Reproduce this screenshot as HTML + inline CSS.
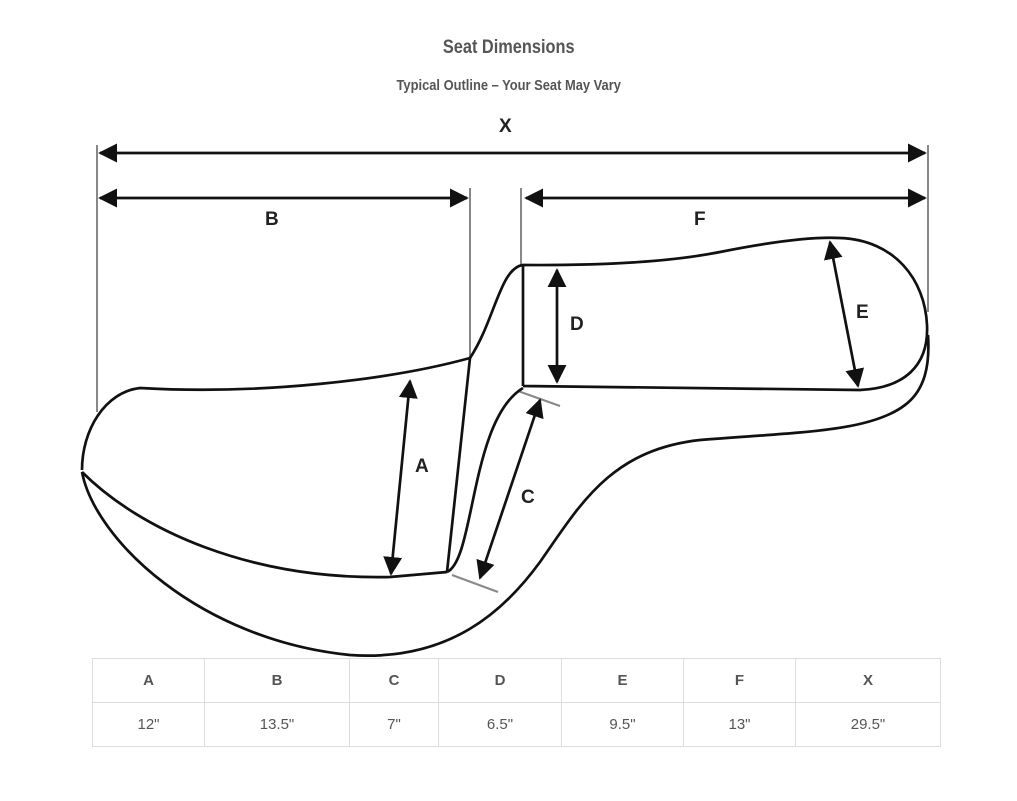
<!DOCTYPE html>
<html><head><meta charset="utf-8"><style>
body{margin:0;background:#fff;width:1017px;height:801px;overflow:hidden;font-family:"Liberation Sans",sans-serif;}
.t{position:absolute;left:0;width:1017px;text-align:center;color:#555;font-weight:bold;}
table{position:absolute;left:92px;top:658px;border-collapse:collapse;font-family:"Liberation Sans",sans-serif;color:#555;font-size:15px;}
td{border:1px solid #ddd;height:43px;text-align:center;padding:0;}
tr:first-child td{font-weight:bold;}
</style></head><body>
<div class="t" style="top:37px;font-size:19px;transform:scaleX(0.86);transform-origin:510px 0;">Seat Dimensions</div>
<div class="t" style="top:77px;font-size:15px;transform:scaleX(0.86);transform-origin:510px 0;">Typical Outline – Your Seat May Vary</div>
<svg width="1017" height="801" style="position:absolute;left:0;top:0" fill="none" stroke="#111" stroke-width="2.7">
<defs><marker id="a" viewBox="0 0 10 10" refX="9" refY="5" markerWidth="7" markerHeight="7" orient="auto-start-reverse"><path d="M0,0L10,5L0,10z" fill="#111" stroke="none"/></marker></defs>
<g stroke="#888" stroke-width="2">
<line x1="97" y1="145" x2="97" y2="412"/><line x1="928" y1="145" x2="928" y2="312"/>
<line x1="470" y1="188" x2="470" y2="358"/><line x1="521" y1="188" x2="521" y2="265"/>
<line x1="518" y1="391" x2="560" y2="406"/><line x1="452" y1="575" x2="498" y2="592"/>
</g>
<line x1="100" y1="153" x2="925" y2="153" marker-start="url(#a)" marker-end="url(#a)"/>
<line x1="100" y1="198" x2="467" y2="198" marker-start="url(#a)" marker-end="url(#a)"/>
<line x1="526" y1="198" x2="925" y2="198" marker-start="url(#a)" marker-end="url(#a)"/>
<line x1="557" y1="270" x2="557" y2="382" marker-start="url(#a)" marker-end="url(#a)"/>
<line x1="830" y1="242" x2="858" y2="386" marker-start="url(#a)" marker-end="url(#a)"/>
<line x1="410" y1="381" x2="391" y2="574" marker-start="url(#a)" marker-end="url(#a)"/>
<line x1="540" y1="400" x2="480" y2="578" marker-start="url(#a)" marker-end="url(#a)"/>
<path d="M82,470 C82,430 105,392 140,388 C260,395 390,380 470,358"/>
<path d="M82,472 C140,530 250,580 390,577 L447,572"/>
<path d="M470,358 L447,572"/>
<path d="M470,358 C495,320 500,268 523,265 Q650,266 720,252 Q800,236 840,238 C895,240 925,280 927,325 C929,365 905,388 860,390 L523,386 M523,265 L523,386"/>
<path d="M447,572 C475,560 470,420 523,388"/>
<path d="M82,472 C95,540 200,640 350,655 C450,662 505,610 540,562 C580,505 610,450 700,440 C800,432 870,432 905,405 C925,390 930,365 928,335"/>
</svg>
<div style="position:absolute;font:bold 19px 'Liberation Sans',sans-serif;color:#222;">
<span style="position:absolute;left:499px;top:116px">X</span>
<span style="position:absolute;left:265px;top:209px">B</span>
<span style="position:absolute;left:694px;top:209px">F</span>
<span style="position:absolute;left:570px;top:314px">D</span>
<span style="position:absolute;left:856px;top:302px">E</span>
<span style="position:absolute;left:415px;top:456px">A</span>
<span style="position:absolute;left:521px;top:487px">C</span>
</div>
<table><tr><td style="width:111px">A</td><td style="width:144px">B</td><td style="width:88px">C</td><td style="width:122px">D</td><td style="width:121px">E</td><td style="width:111px">F</td><td style="width:144px">X</td></tr>
<tr><td>12"</td><td>13.5"</td><td>7"</td><td>6.5"</td><td>9.5"</td><td>13"</td><td>29.5"</td></tr></table>
</body></html>
